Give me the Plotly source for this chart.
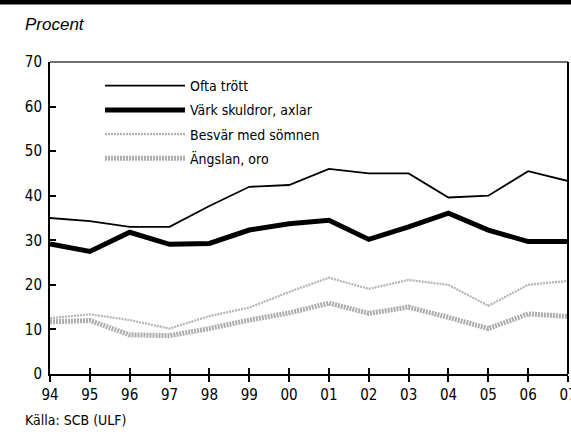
import plotly.graph_objects as go

years = list(range(1994, 2008))
year_labels = ["94", "95", "96", "97", "98", "99", "00", "01", "02", "03", "04", "05", "06", "07"]

ofta_trott = [35.0, 34.3, 33.0, 33.0, 37.7, 42.0, 42.4, 46.0, 45.0, 45.0, 39.6, 40.0, 45.5, 43.3]
vark_skuldror = [29.2, 27.5, 31.8, 29.1, 29.3, 32.3, 33.7, 34.5, 30.2, 33.0, 36.1, 32.3, 29.7, 29.7]
besvar_somnen = [12.5, 13.4, 12.1, 10.2, 13.0, 14.9, 18.4, 21.6, 19.1, 21.1, 20.0, 15.3, 20.0, 20.9]
angslan_oro = [11.7, 12.0, 8.8, 8.6, 10.2, 12.1, 13.7, 15.9, 13.6, 15.0, 12.7, 10.2, 13.5, 12.9]

FONT = "Liberation Sans Narrow, DejaVu Sans Condensed, Arial Narrow, sans-serif"

fig = go.Figure()
fig.add_trace(go.Scatter(x=years, y=ofta_trott, mode="lines", name="Ofta trött",
                         legendgroup="a", line=dict(color="#000000", width=1.8)))
fig.add_trace(go.Scatter(x=years, y=vark_skuldror, mode="lines", name="Värk skuldror, axlar",
                         legendgroup="b", line=dict(color="#000000", width=5)))
fig.add_trace(go.Scatter(x=years, y=besvar_somnen, mode="lines", name="Besvär med sömnen",
                         legendgroup="c", line=dict(color="#b4b4b4", width=2.2, dash="2px,1px")))
fig.add_trace(go.Scatter(x=years, y=angslan_oro, mode="lines", name="Ängslan, oro",
                         legendgroup="d", line=dict(color="#adadad", width=5, dash="2px,1px")))

fig.update_layout(
    width=571, height=435,
    margin=dict(l=50, r=3, t=62, b=61, autoexpand=False),
    paper_bgcolor="white", plot_bgcolor="white",
    font=dict(family=FONT, size=14, color="#000000"),
    showlegend=True,
    legend=dict(x=0.0965, y=0.974, xanchor="left", yanchor="top",
                bgcolor="rgba(0,0,0,0)", itemwidth=80, tracegroupgap=3,
                traceorder="grouped",
                font=dict(family=FONT, size=14), itemclick=False),
    xaxis=dict(range=[1994, 2007], tickmode="array", tickvals=years, ticktext=year_labels,
               showgrid=False, zeroline=False, showline=True, linecolor="#000000", linewidth=2,
               ticks="outside", ticklen=6, tickwidth=1.5, tickcolor="#000000",
               ticklabeloverflow="allow",
               automargin=False, tickfont=dict(family=FONT, size=15)),
    xaxis2=dict(range=[1994, 2007], overlaying="x", anchor="y", side="bottom",
                tickmode="array", tickvals=years, showticklabels=False,
                showgrid=False, zeroline=False, showline=False, automargin=False,
                ticks="inside", ticklen=6, tickwidth=1.5, tickcolor="#000000"),
    yaxis=dict(range=[0, 70], tickmode="array", tickvals=[0, 10, 20, 30, 40, 50, 60, 70],
               showgrid=False, zeroline=False, showline=True, linecolor="#000000", linewidth=2,
               ticks="inside", ticklen=6, tickwidth=1.5, tickcolor="#000000",
               automargin=False, ticklabelstandoff=3, tickfont=dict(family=FONT, size=15)),
    shapes=[
        dict(type="rect", xref="paper", yref="paper", x0=-0.2, x1=1.1, y0=1.184, y1=1.25,
             fillcolor="#000000", line=dict(width=0)),
        dict(type="line", xref="paper", yref="paper", x0=0, x1=1, y0=1, y1=1,
             line=dict(color="#707070", width=2)),
        dict(type="line", xref="paper", yref="paper", x0=1, x1=1, y0=0, y1=1,
             line=dict(color="#000000", width=2)),
    ],
    annotations=[
        dict(text="<i>Procent</i>", xref="paper", yref="paper", x=-0.052, y=1.119,
             xanchor="left", yanchor="middle", showarrow=False,
             font=dict(family="Liberation Sans, Arial, sans-serif", size=17)),
        dict(text="Källa: SCB (ULF)", xref="paper", yref="paper", x=-0.052, y=-0.147,
             xanchor="left", yanchor="middle", showarrow=False,
             font=dict(family=FONT, size=14)),
    ],
)
# dummy trace on xaxis2 so its crossing tick marks render
fig.add_trace(go.Scatter(x=[1994], y=[None], xaxis="x2", showlegend=False, hoverinfo="skip"))

fig.write_html("out.html", config={"displayModeBar": False},
               post_script="document.body.style.margin='0';")
